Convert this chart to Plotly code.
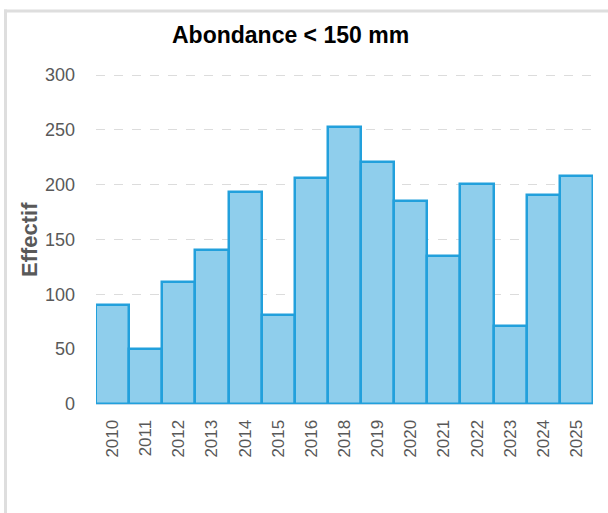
import plotly.graph_objects as go

years = ["2010", "2011", "2012", "2013", "2014", "2015", "2016", "2018",
         "2019", "2020", "2021", "2022", "2023", "2024", "2025"]
effectif = [90, 50, 111, 140, 193, 81, 206, 253, 221, 185, 135, 201, 71, 191, 208]
y_ticks = [0, 50, 100, 150, 200, 250, 300]

W, H = 608, 513
L, R, T, B = 96, 15, 72, 109
pw, ph = W - L - R, H - T - B
y_top = 300 * ph / 329.0

def px_x(p):
    return (p - L) / pw

def px_y(p):
    return (H - B - p) / ph

fig = go.Figure()
fig.add_trace(go.Bar(
    x=years, y=effectif,
    marker=dict(color="rgb(143,206,236)",
                line=dict(color="#22a0dc", width=2.5)),
    width=1.0,
))

fig.update_layout(
    width=W, height=H,
    margin=dict(l=L, r=R, t=T, b=B),
    paper_bgcolor="white", plot_bgcolor="white",
    showlegend=False,
    bargap=0,
    font=dict(family="Liberation Sans, Arial, sans-serif", color="#595959"),
    xaxis=dict(type="category", tickangle=-90, tickfont=dict(size=17, color="#595959"),
               showgrid=False, showline=True, linecolor="#bfd9ea", linewidth=1,
               ticks="", ticklen=0, ticklabelstandoff=8),
    yaxis=dict(range=[0, y_top], tickvals=y_ticks, tickfont=dict(size=18, color="#595959"),
               showgrid=True, gridcolor="#dcdcdc", griddash="dash", gridwidth=1,
               zeroline=False, showline=False, ticks="", ticklabelstandoff=20),
    shapes=[
        dict(type="rect", xref="paper", yref="paper",
             x0=px_x(4), x1=px_x(W + 5), y0=px_y(12.5), y1=px_y(9.5),
             line=dict(width=0), fillcolor="#dedede"),
        dict(type="rect", xref="paper", yref="paper",
             x0=px_x(4), x1=px_x(7), y0=px_y(H + 5), y1=px_y(9.5),
             line=dict(width=0), fillcolor="#dedede"),
    ],
    annotations=[
        dict(text="<b>Abondance < 150 mm</b>", xref="paper", yref="paper",
             x=px_x(290), y=px_y(35), xanchor="center", yanchor="middle",
             showarrow=False, font=dict(size=23, color="#000000")),
        dict(text="<b>Effectif</b>", xref="paper", yref="paper",
             x=px_x(29), y=px_y(240), xanchor="center", yanchor="middle",
             textangle=-90, showarrow=False, font=dict(size=22, color="#595959")),
    ],
)

fig.write_html("out.html", config={"displayModeBar": False},
               post_script="document.body.style.margin='0';document.body.style.overflow='hidden';")
